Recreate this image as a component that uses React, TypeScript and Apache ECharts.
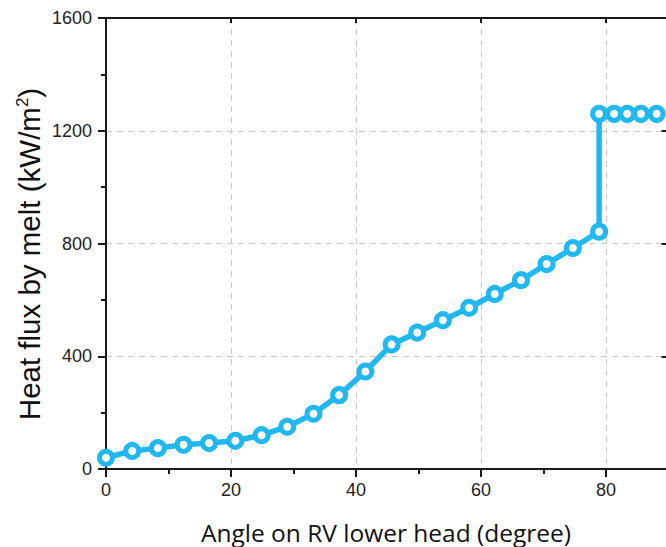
import React, { useEffect, useRef } from "react";
import * as echarts from "echarts";

// Angle along the RV lower head (degree) and the melt heat flux (kW/m2)
const angles = [
  0, 4.2, 8.3, 12.4, 16.5, 20.7, 24.9, 29.0, 33.2, 37.3, 41.5, 45.7, 49.8, 53.9,
  58.1, 62.2, 66.4, 70.5, 74.7, 78.9, 78.9, 81.3, 83.4, 85.6, 88.1,
];
const heatFlux = [
  40, 64, 74, 86, 92, 100, 120, 150, 196, 262, 346, 442, 484, 528, 572, 621, 670,
  727, 784, 842, 1260, 1260, 1260, 1260, 1260,
];

const xTicks = [0, 20, 40, 60, 80];
const yTicks = [0, 400, 800, 1200, 1600];

const xTitle = "Angle on RV lower head (degree)";
const yTitle = "Heat flux by melt (kW/m{sup|2})";

const BLUE = "#1fb8f3";
const AXIS = "#1a1a1a";

export default function App() {
  const ref = useRef<HTMLDivElement>(null);

  useEffect(() => {
    if (!ref.current) return;
    const chart = echarts.init(ref.current, undefined, { renderer: "svg" });

    const tickFont = {
      fontFamily: "Liberation Sans",
      fontSize: 18,
      color: "#222",
      formatter: (v: number) => String(v),
    };
    const splitLine = {
      show: true,
      lineStyle: { color: "#c8c8c8", type: [6, 5] as number[], width: 1 },
    };

    chart.setOption({
      animation: false,
      backgroundColor: "#fff",
      grid: { left: 106, top: 18, right: 3.5, bottom: 78, outerBoundsMode: "none" },
      xAxis: [
        {
          type: "value",
          position: "bottom",
          min: xTicks[0],
          max: 90,
          interval: xTicks[1] - xTicks[0],
          axisLine: { show: true, onZero: false, lineStyle: { color: AXIS, width: 2 } },
          axisTick: { show: true, length: 8, lineStyle: { color: AXIS, width: 2 } },
          minorTick: { show: true, splitNumber: 2, length: 5, lineStyle: { color: AXIS, width: 2 } },
          axisLabel: { ...tickFont, margin: 12, showMaxLabel: false },
          splitLine,
        },
        {
          type: "value",
          position: "top",
          min: xTicks[0],
          max: 90,
          interval: xTicks[1] - xTicks[0],
          axisLine: { show: true, onZero: false, lineStyle: { color: AXIS, width: 2 } },
          axisTick: { show: true, inside: true, length: 5, lineStyle: { color: AXIS, width: 2 } },
          axisLabel: { show: false },
          splitLine: { show: false },
        },
      ],
      yAxis: [
        {
          type: "value",
          position: "left",
          min: yTicks[0],
          max: yTicks[yTicks.length - 1],
          interval: yTicks[1] - yTicks[0],
          axisLine: { show: true, onZero: false, lineStyle: { color: AXIS, width: 2 } },
          axisTick: { show: true, length: 8, lineStyle: { color: AXIS, width: 2 } },
          minorTick: { show: true, splitNumber: 2, length: 5, lineStyle: { color: AXIS, width: 2 } },
          axisLabel: { ...tickFont, margin: 14 },
          splitLine,
        },
        {
          type: "value",
          position: "right",
          min: yTicks[0],
          max: yTicks[yTicks.length - 1],
          interval: yTicks[1] - yTicks[0],
          axisLine: { show: true, onZero: false, lineStyle: { color: AXIS, width: 2 } },
          axisTick: { show: true, inside: true, length: 7, lineStyle: { color: AXIS, width: 2 } },
          axisLabel: { show: false },
          splitLine: { show: false },
        },
      ],
      graphic: [
        {
          type: "text",
          x: 386,
          y: 532,
          style: {
            text: xTitle,
            fontFamily: "Open Sans",
            fontSize: 24.5,
            fill: "#111",
            align: "center",
            verticalAlign: "middle",
          },
        },
        {
          type: "text",
          x: 29,
          y: 254,
          rotation: Math.PI / 2,
          style: {
            text: yTitle,
            fontFamily: "Liberation Sans",
            fontSize: 29.5,
            fill: "#111",
            align: "center",
            verticalAlign: "middle",
            rich: {
              sup: {
                fontFamily: "Liberation Sans",
                fontSize: 17,
                fill: "#111",
                verticalAlign: "bottom",
                padding: [0, 0, 14, 0],
              },
            },
          },
        },
      ],
      series: [
        {
          type: "line",
          xAxisIndex: 0,
          yAxisIndex: 0,
          data: angles.map((a, i) => [a, heatFlux[i]]),
          symbol: "circle",
          symbolSize: 13,
          showAllSymbol: true,
          lineStyle: { color: BLUE, width: 5.5 },
          itemStyle: { color: "#fff", borderColor: BLUE, borderWidth: 5 },
          emphasis: { disabled: true },
          z: 5,
        },
      ],
    });

    return () => chart.dispose();
  }, []);

  return (
    <div
      style={{
        position: "fixed",
        left: 0,
        top: 0,
        width: 666,
        height: 547,
        overflow: "hidden",
        background: "#fff",
      }}
    >
      <div ref={ref} style={{ width: 672, height: 547 }} />
    </div>
  );
}
